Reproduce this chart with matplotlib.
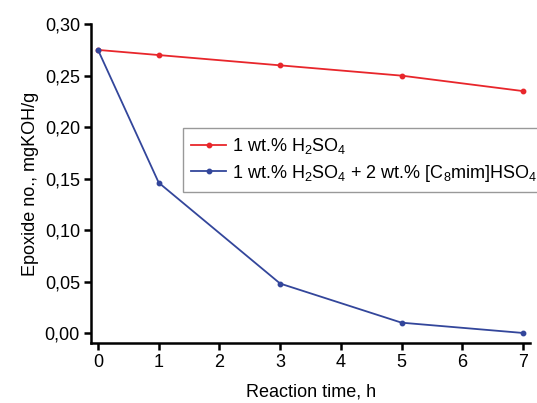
import matplotlib
matplotlib.use('Agg')
import matplotlib.pyplot as plt
from matplotlib.ticker import FuncFormatter

plt.rcParams['font.family'] = ['Liberation Sans', 'DejaVu Sans']
plt.rcParams['mathtext.fontset'] = 'custom'
plt.rcParams['mathtext.rm'] = 'Liberation Sans'
plt.rcParams['mathtext.it'] = 'Liberation Sans'
plt.rcParams['mathtext.bf'] = 'Liberation Sans:bold'

time_h = [0, 1, 3, 5, 7]
epox_h2so4 = [0.275, 0.270, 0.260, 0.250, 0.235]
epox_il = [0.275, 0.146, 0.048, 0.010, 0.000]

fig = plt.figure(figsize=(5.37, 4.03), dpi=100)
ax = fig.add_axes([0.1695, 0.149, 0.818, 0.791])

ax.plot(time_h, epox_h2so4, '-o', color='#e8262b', lw=1.3, ms=3.2,
        label=r'1 wt.% H$_\mathregular{2}$SO$_\mathregular{4}$')
ax.plot(time_h, epox_il, '-o', color='#33469b', lw=1.3, ms=3.2,
        label=r'1 wt.% H$_\mathregular{2}$SO$_\mathregular{4}$ + 2 wt.% [C$_\mathregular{8}$mim]HSO$_\mathregular{4}$')

ax.set_xlim(-0.115, 7.12)
ax.set_ylim(-0.0097, 0.30)
ax.set_xticks(range(0, 8))
ax.set_yticks([0, 0.05, 0.10, 0.15, 0.20, 0.25, 0.30])
ax.yaxis.set_major_formatter(FuncFormatter(lambda v, p: ('%.2f' % v).replace('.', ',')))

for s in ['top', 'right']:
    ax.spines[s].set_visible(False)
for s in ['left', 'bottom']:
    ax.spines[s].set_linewidth(1.8)
ax.tick_params(direction='out', length=5, width=1.8, labelsize=13, pad=3)

ax.set_xlabel('Reaction time, h', fontsize=13, labelpad=9)
ax.set_ylabel('Epoxide no., mgKOH/g', fontsize=13, labelpad=4)

leg = ax.legend(loc='upper left', bbox_to_anchor=(0.21, 0.674), fontsize=13,
                frameon=True, fancybox=False, edgecolor='#999999', framealpha=1,
                handlelength=1.9, handletextpad=0.35, borderaxespad=0,
                borderpad=0.45, labelspacing=0.35)
leg.get_frame().set_linewidth(1.0)

fig.savefig('out.png', dpi=100)
